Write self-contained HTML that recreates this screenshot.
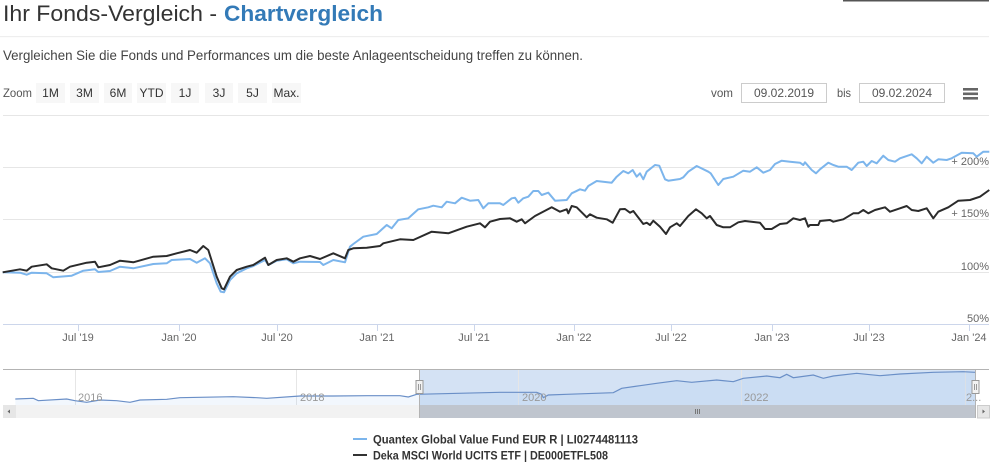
<!DOCTYPE html>
<html>
<head>
<meta charset="utf-8">
<style>
  html,body{margin:0;padding:0;background:#fff;}
  svg{display:block;font-family:"Liberation Sans",sans-serif;}
</style>
</head>
<body>
<svg width="999" height="474" viewBox="0 0 999 474" xmlns="http://www.w3.org/2000/svg">
  <rect x="0" y="0" width="999" height="474" fill="#fff"/>
  <!-- top-right dark line -->
  <rect x="843" y="0" width="146" height="1.5" fill="#555"/>

  <!-- Title -->
  <text x="3" y="21" font-size="22" fill="#333" textLength="214" lengthAdjust="spacingAndGlyphs">Ihr Fonds-Vergleich -</text>
  <text x="224" y="21" font-size="22" font-weight="bold" fill="#337ab7" textLength="159" lengthAdjust="spacingAndGlyphs">Chartvergleich</text>
  <rect x="0" y="36" width="989" height="1.2" fill="#eeeeee"/>

  <!-- Subtitle -->
  <text x="3" y="60" font-size="13.5" fill="#444" textLength="580" lengthAdjust="spacingAndGlyphs">Vergleichen Sie die Fonds und Performances um die beste Anlageentscheidung treffen zu können.</text>

  <!-- Zoom row -->
  <text x="3" y="97" font-size="12" fill="#555" textLength="29" lengthAdjust="spacingAndGlyphs">Zoom</text>
  <g font-size="12" fill="#333" text-anchor="middle">
    <rect x="36" y="83" width="29" height="20" fill="#f7f7f7"/><text x="50.5" y="97">1M</text>
    <rect x="70" y="83" width="29" height="20" fill="#f7f7f7"/><text x="84.5" y="97">3M</text>
    <rect x="104" y="83" width="28" height="20" fill="#f7f7f7"/><text x="118" y="97">6M</text>
    <rect x="137" y="83" width="29" height="20" fill="#f7f7f7"/><text x="151.5" y="97">YTD</text>
    <rect x="171" y="83" width="28" height="20" fill="#f7f7f7"/><text x="185" y="97">1J</text>
    <rect x="205" y="83" width="28" height="20" fill="#f7f7f7"/><text x="219" y="97">3J</text>
    <rect x="238" y="83" width="29" height="20" fill="#f7f7f7"/><text x="252.5" y="97">5J</text>
    <rect x="272" y="83" width="29" height="20" fill="#f7f7f7"/><text x="286.5" y="97">Max.</text>
  </g>

  <!-- Date inputs -->
  <text x="711" y="97" font-size="12" fill="#555" textLength="22" lengthAdjust="spacingAndGlyphs">vom</text>
  <rect x="741.5" y="83.5" width="85" height="19" fill="#fff" stroke="#ccc"/>
  <text x="784" y="97" font-size="12" fill="#555" text-anchor="middle">09.02.2019</text>
  <text x="837" y="97" font-size="12" fill="#555" textLength="14" lengthAdjust="spacingAndGlyphs">bis</text>
  <rect x="859.5" y="83.5" width="85" height="19" fill="#fff" stroke="#ccc"/>
  <text x="902" y="97" font-size="12" fill="#555" text-anchor="middle">09.02.2024</text>
  <!-- hamburger -->
  <rect x="963" y="88" width="15" height="2.6" fill="#666"/>
  <rect x="963" y="92.5" width="15" height="2.6" fill="#666"/>
  <rect x="963" y="97" width="15" height="2.6" fill="#666"/>

  <!-- Grid -->
  <g stroke="#e6e6e6" stroke-width="1">
    <line x1="3" y1="115.5" x2="989" y2="115.5"/>
    <line x1="3" y1="167.5" x2="989" y2="167.5"/>
    <line x1="3" y1="219.5" x2="989" y2="219.5"/>
    <line x1="3" y1="272.5" x2="989" y2="272.5"/>
  </g>
  <line x1="3" y1="324.5" x2="989" y2="324.5" stroke="#ccd6eb" stroke-width="1"/>
  <g stroke="#ccd6eb" stroke-width="1">
    <line x1="78.5" y1="324" x2="78.5" y2="331"/>
    <line x1="179.5" y1="324" x2="179.5" y2="331"/>
    <line x1="277.5" y1="324" x2="277.5" y2="331"/>
    <line x1="377.5" y1="324" x2="377.5" y2="331"/>
    <line x1="474.5" y1="324" x2="474.5" y2="331"/>
    <line x1="574.5" y1="324" x2="574.5" y2="331"/>
    <line x1="671.5" y1="324" x2="671.5" y2="331"/>
    <line x1="772.5" y1="324" x2="772.5" y2="331"/>
    <line x1="869.5" y1="324" x2="869.5" y2="331"/>
    <line x1="969.5" y1="324" x2="969.5" y2="331"/>
  </g>
  <g font-size="11" fill="#666" text-anchor="middle">
    <text x="78" y="341">Jul '19</text>
    <text x="179" y="341">Jan '20</text>
    <text x="277" y="341">Jul '20</text>
    <text x="377" y="341">Jan '21</text>
    <text x="474" y="341">Jul '21</text>
    <text x="574" y="341">Jan '22</text>
    <text x="671" y="341">Jul '22</text>
    <text x="772" y="341">Jan '23</text>
    <text x="869" y="341">Jul '23</text>
    <text x="969" y="341">Jan '24</text>
  </g>
  <g font-size="11" fill="#666" text-anchor="end">
    <text x="989" y="165">+ 200%</text>
    <text x="989" y="217">+ 150%</text>
    <text x="989" y="270">100%</text>
    <text x="989" y="322">50%</text>
  </g>

  <!-- Series -->
  <polyline fill="none" stroke="#7cb5ec" stroke-width="2" stroke-linejoin="round" points="2.7,272.3 20,272.7 26.7,274.7 31.7,272.7 46.7,273.3 53.3,277.3 71.7,275.7 83.3,270.7 95,269.3 98.3,272 110,271 120,266.7 133.3,268.3 153.3,264 166.7,263.3 171.7,260 190,259 196.7,262.7 205,258.3 210,263.3 216.7,283.3 220.7,291.7 224,292.3 230,280 236.7,273.3 246.7,268.3 253.3,266 265,260 268.3,265 276.7,260.7 286.7,259.3 293.3,263.3 300,261.7 320,262 323.3,265 333.3,260 345,262.3 350,246.7 353.3,244 363.3,236.7 376.7,234 386.7,225 391.7,228.3 398.3,220 408.3,218.3 418.3,209.3 428.3,207.3 433.3,205.7 441.7,207.3 446.7,201.7 455,203.3 461.7,197.7 470,200.7 478.3,200 483.3,208.3 488.3,203.3 500,203.3 503.3,205 511.7,198.3 515,197.7 518.3,202.7 523.3,198.3 528.3,196.7 533.3,191 538.3,191 541.7,195 548.3,192.7 555,200.7 566.7,200 571.7,193.3 580,189.3 585,190.7 588.3,186 596.7,181 611.7,182.7 616.7,176.7 623.3,171 628.3,173.3 632.7,170 636.7,176.7 640,173.3 643.3,179.3 646.7,171.7 655,165 659.3,165.7 665,179.3 668.3,180.7 680,179 683.3,177.3 688.3,171.7 696.7,166 708.3,171.7 710.7,173.3 718.3,185 723.3,179 733.3,176.7 743.3,170.7 750,171.7 756.7,167.3 763.3,172.7 770,170 775,164 781.7,160.7 790,161.7 800,162.7 803.3,165 805,162.3 811.7,170 816,173.3 820,169.3 828.3,162.7 833.3,165 838.3,166.7 846.7,166.7 851.7,170 858.3,162.7 863.3,161.7 866.7,166 871.7,161 876.7,163.3 883.3,155.7 888.3,160 895,161.7 900,158.3 911.7,154.3 916.7,158.3 921.7,163.3 926.7,156.7 933.3,162.7 938.3,159.3 946.7,160 951.7,158.3 961.7,152.7 973.3,153.3 976.7,156.7 983.3,151.7 989.3,151.7"/>
  <polyline fill="none" stroke="#2b2b2b" stroke-width="2" stroke-linejoin="round" points="2.7,272.3 20,269.3 26.7,270.7 31.7,266.7 46.7,264.3 51.7,268.3 63.3,270.7 70,266.7 86.7,262.7 95,261.7 98.3,267.3 110,265 120,260.7 133.3,262.3 153.3,256.7 166.7,256 176.7,253.3 190,250 196.7,252.7 203.3,246 208.3,250 216.7,276.7 221.7,288.3 224,289.3 230,276.7 236.7,270 246.7,266.7 253.3,265 265,257.7 268.3,265 276.7,260 286.7,258.3 293.3,261.7 300,258.3 310,256 320,259 333.3,253.3 345,258.3 348.3,250 353.3,248.3 366.7,247.7 380,246 383.3,243.3 400,239.3 413.3,240 431.7,231.7 448.3,233.3 466.7,226.7 480,223.3 485,227.3 490,221.7 500,219 510,218.3 516.7,221.7 521.7,219.3 525,223.3 535,216 551.7,207.3 560,211.7 566.7,209.3 568.3,213.3 571.7,206 576.7,207.3 586.7,217.3 590,214.3 596.7,217.7 606.7,219.3 612.7,222.7 620,209.3 625,209 630,212.7 633.3,211 643.3,224 646.7,222.7 650,225 653.3,220.7 660,226.7 666,234 670,227.3 676.7,223.3 680,226 688.3,216 696,209.3 701.7,213.3 706.7,218.3 710,216 716.7,225 723.3,227.3 730,227.3 738.3,222.3 745,221 760,222.7 765,229 771.7,229 780,224 786.7,223.3 793.3,218.3 800,220 805,218.3 808.3,226.7 810,225 818.3,225 820,221 830,220 833.3,221.7 843.3,219.3 853.3,213.3 858.3,213.3 863.3,210 868.3,213.3 875,210 885,207.3 890,211.7 900,208.3 906.7,206 911.7,210 918.3,211 926.7,208.3 933.3,218.3 938.3,211.7 948.3,207.3 958.3,200.7 970,200 980,196.7 989.3,190"/>

  <!-- Navigator -->
  <rect x="419" y="369.5" width="556" height="35.5" fill="#d4e2f4"/>
  <g stroke="#e6e6e6" stroke-width="1">
    <line x1="75.5" y1="369" x2="75.5" y2="405"/>
    <line x1="296.5" y1="369" x2="296.5" y2="405"/>
    <line x1="518.5" y1="369" x2="518.5" y2="405"/>
    <line x1="741.5" y1="369" x2="741.5" y2="405"/>
    <line x1="965.5" y1="369" x2="965.5" y2="405"/>
  </g>
  <path fill="#7cb5ec" fill-opacity="0.1" stroke="none" d="M15.3,399 L33.3,398.3 38.3,400.7 66.7,399 75,400.7 86.7,402.3 100,400 116.7,400.7 130,402.3 140,400 166.7,399.3 180,397.7 200,397.3 233.3,396.7 256.7,397.7 266.7,398.3 300,396 333.3,396 366.7,395.7 400,395.7 408.3,397 416.7,394.3 500,392.3 526.7,392.3 536.7,392.3 541.7,394.3 543.3,397.7 548.3,395 566.7,394.3 613.3,392.7 621.7,388.3 640,385.7 656.7,383.3 676.7,380.7 691.7,382.3 716.7,380 733.3,381.7 743.3,378.3 766.7,376 780,377.7 786.7,374.3 793.3,377.7 813.3,375 823.3,378.3 833.3,376 856.7,373.3 880,375.7 900,374 933.3,372.3 963.3,371.7 975,372.3 L975,405 L15.3,405 Z"/>
  <polyline fill="none" stroke="#6a8fc7" stroke-width="1.2" points="15.3,399 33.3,398.3 38.3,400.7 66.7,399 75,400.7 86.7,402.3 100,400 116.7,400.7 130,402.3 140,400 166.7,399.3 180,397.7 200,397.3 233.3,396.7 256.7,397.7 266.7,398.3 300,396 333.3,396 366.7,395.7 400,395.7 408.3,397 416.7,394.3 500,392.3 526.7,392.3 536.7,392.3 541.7,394.3 543.3,397.7 548.3,395 566.7,394.3 613.3,392.7 621.7,388.3 640,385.7 656.7,383.3 676.7,380.7 691.7,382.3 716.7,380 733.3,381.7 743.3,378.3 766.7,376 780,377.7 786.7,374.3 793.3,377.7 813.3,375 823.3,378.3 833.3,376 856.7,373.3 880,375.7 900,374 933.3,372.3 963.3,371.7 975,372.3"/>
  <g font-size="11" fill="#999">
    <text x="78" y="401">2016</text>
    <text x="300" y="401">2018</text>
    <text x="522" y="401">2020</text>
    <text x="744" y="401">2022</text>
    <text x="966" y="401">2...</text>
  </g>
  <!-- scrollbar -->
  <rect x="16" y="405" width="959" height="13" fill="#f2f2f2"/>
  <rect x="419" y="405" width="556" height="13" fill="#bfc5ce"/>
  <g stroke="#777" stroke-width="1">
    <line x1="695.5" y1="409" x2="695.5" y2="414"/>
    <line x1="697.5" y1="409" x2="697.5" y2="414"/>
    <line x1="699.5" y1="409" x2="699.5" y2="414"/>
  </g>
  <rect x="3" y="405" width="13" height="13" fill="#e6e6e6"/>
  <path d="M7.5,411.5 L10,409.5 L10,413.5 Z" fill="#666"/>
  <rect x="977.5" y="405.5" width="12" height="12.5" fill="#e6e6e6" stroke="#ccc"/>
  <path d="M985,411.5 L982.5,409.5 L982.5,413.5 Z" fill="#666"/>
  <!-- outline -->
  <g stroke="#b3b3b3" stroke-width="1" fill="none">
    <line x1="3" y1="369.5" x2="989" y2="369.5"/>
    <line x1="419.5" y1="369" x2="419.5" y2="418"/>
    <line x1="975.5" y1="369" x2="975.5" y2="418"/>
  </g>
  <!-- handles -->
  <rect x="416" y="380.5" width="7" height="13" fill="#f2f2f2" stroke="#999"/>
  <line x1="418.5" y1="384" x2="418.5" y2="390" stroke="#999"/>
  <line x1="420.5" y1="384" x2="420.5" y2="390" stroke="#999"/>
  <rect x="972" y="380.5" width="7" height="13" fill="#f2f2f2" stroke="#999"/>
  <line x1="974.5" y1="384" x2="974.5" y2="390" stroke="#999"/>
  <line x1="976.5" y1="384" x2="976.5" y2="390" stroke="#999"/>

  <!-- Legend -->
  <line x1="353" y1="439" x2="367" y2="439" stroke="#7cb5ec" stroke-width="2"/>
  <text x="373" y="443.5" font-size="12" font-weight="bold" fill="#333" textLength="265" lengthAdjust="spacingAndGlyphs">Quantex Global Value Fund EUR R | LI0274481113</text>
  <line x1="353" y1="455" x2="367" y2="455" stroke="#333" stroke-width="2"/>
  <text x="373" y="459.5" font-size="12" font-weight="bold" fill="#333" textLength="235" lengthAdjust="spacingAndGlyphs">Deka MSCI World UCITS ETF | DE000ETFL508</text>
</svg>
</body>
</html>
